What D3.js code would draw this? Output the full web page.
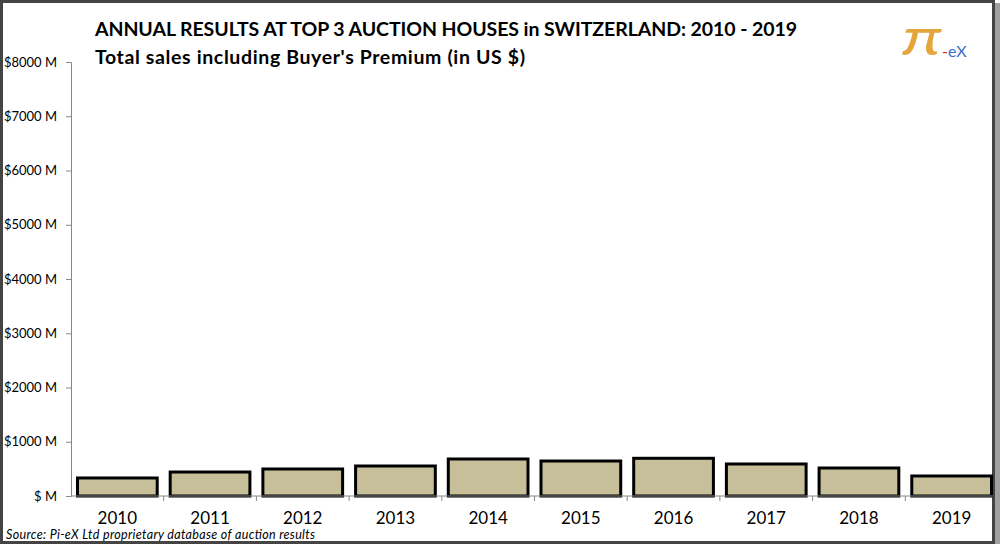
<!DOCTYPE html>
<html>
<head>
<meta charset="utf-8">
<script src="https://cdn.jsdelivr.net/npm/d3@7"></script>
<style>
  body { margin: 0; background: #fff; }
  text { font-family: Lato, "Open Sans", sans-serif; }
</style>
</head>
<body>
<div id="chart"></div>
<script>
// data
const years = ["2010", "2011", "2012", "2013", "2014", "2015", "2016", "2017", "2018", "2019"];
const sales = [332, 442, 498, 553, 682, 645, 695, 590, 516, 369];
const yTicks = [0, 1000, 2000, 3000, 4000, 5000, 6000, 7000, 8000];

const width = 1000, height = 544;
const margin = { top: 62, right: 2, bottom: 48, left: 71 };

const svg = d3.select('#chart').append('svg')
  .attr('width', width)
  .attr('height', height);

// frame
svg.append('rect')
  .attr('x', width - 7).attr('y', 3)
  .attr('width', 7).attr('height', height - 3)
  .attr('fill', '#a0a0a0');
svg.append('rect')
  .attr('x', 1.5).attr('y', 1.5)
  .attr('width', width - 8).attr('height', height - 3)
  .attr('fill', '#fff')
  .attr('stroke', '#444')
  .attr('stroke-width', 3);

const xScale = d3.scaleBand()
  .domain(years)
  .range([margin.left, 998])
  .paddingInner(0.14)
  .paddingOuter(0.07);

const yScale = d3.scaleLinear()
  .domain([0, 8000])
  .range([height - margin.bottom, margin.top]);

// y axis
const yAxis = d3.axisLeft(yScale)
  .tickValues(yTicks)
  .tickSize(5)
  .tickFormat(d => d === 0 ? '$ M' : `$${d} M`);

const gy = svg.append('g')
  .attr('transform', `translate(${margin.left}, 0)`)
  .call(yAxis);
gy.selectAll('line, path').attr('stroke', '#888');
gy.selectAll('text')
  .attr('font-size', 13)
  .attr('font-family', 'Lato, sans-serif')
  .attr('fill', '#000')
  .attr('x', -14);

// bars
svg.selectAll('rect.bar').data(years)
  .enter().append('rect')
  .attr('class', 'bar')
  .attr('x', d => xScale(d))
  .attr('y', (d, i) => yScale(sales[i]))
  .attr('width', xScale.bandwidth())
  .attr('height', (d, i) => yScale(0) - yScale(sales[i]))
  .attr('fill', '#c7bf9a')
  .attr('stroke', '#000')
  .attr('stroke-width', 3);

// x axis
const gx = svg.append('g')
  .attr('transform', `translate(0, ${yScale(0)})`);
gx.append('line')
  .attr('x1', margin.left).attr('x2', 993)
  .attr('stroke', '#888');
const step = xScale.step();
gx.selectAll('line.tick').data(years.slice(1))
  .enter().append('line')
  .attr('class', 'tick')
  .attr('x1', d => xScale(d) - step * xScale.paddingInner() / 2)
  .attr('x2', d => xScale(d) - step * xScale.paddingInner() / 2)
  .attr('y1', 0).attr('y2', 5)
  .attr('stroke', '#888');
gx.selectAll('text').data(years)
  .enter().append('text')
  .attr('x', d => xScale(d) + xScale.bandwidth() / 2)
  .attr('y', 28)
  .attr('text-anchor', 'middle')
  .attr('font-size', 17)
  .text(d => d);

// titles
svg.append('text')
  .attr('x', 95).attr('y', 36)
  .attr('font-size', 19.5)
  .attr('font-weight', 'bold')
  .attr('textLength', 702)
  .text('ANNUAL RESULTS AT TOP 3 AUCTION HOUSES in SWITZERLAND: 2010 - 2019');
svg.append('text')
  .attr('x', 95).attr('y', 64)
  .attr('font-size', 19.5)
  .attr('font-weight', 'bold')
  .attr('textLength', 430)
  .text("Total sales including Buyer's Premium (in US $)");

// source
svg.append('text')
  .attr('x', 6).attr('y', 539)
  .attr('font-size', 12.5)
  .attr('font-style', 'italic')
  .attr('textLength', 309)
  .text('Source:  Pi-eX Ltd proprietary database of auction results');

// logo
svg.append('text')
  .attr('transform', 'translate(902, 55) scale(1.35, 1)')
  .attr('font-family', 'Liberation Serif, serif')
  .attr('font-style', 'italic')
  .attr('font-size', 52)
  .attr('fill', '#e4a63c')
  .text('π');
const logo = svg.append('text')
  .attr('x', 942).attr('y', 57)
  .attr('font-family', 'Liberation Sans, sans-serif')
  .attr('font-size', 16);
logo.append('tspan').attr('fill', '#d02020').text('-');
logo.append('tspan').attr('fill', '#3a6fc8').text('eX');
</script>
</body>
</html>
